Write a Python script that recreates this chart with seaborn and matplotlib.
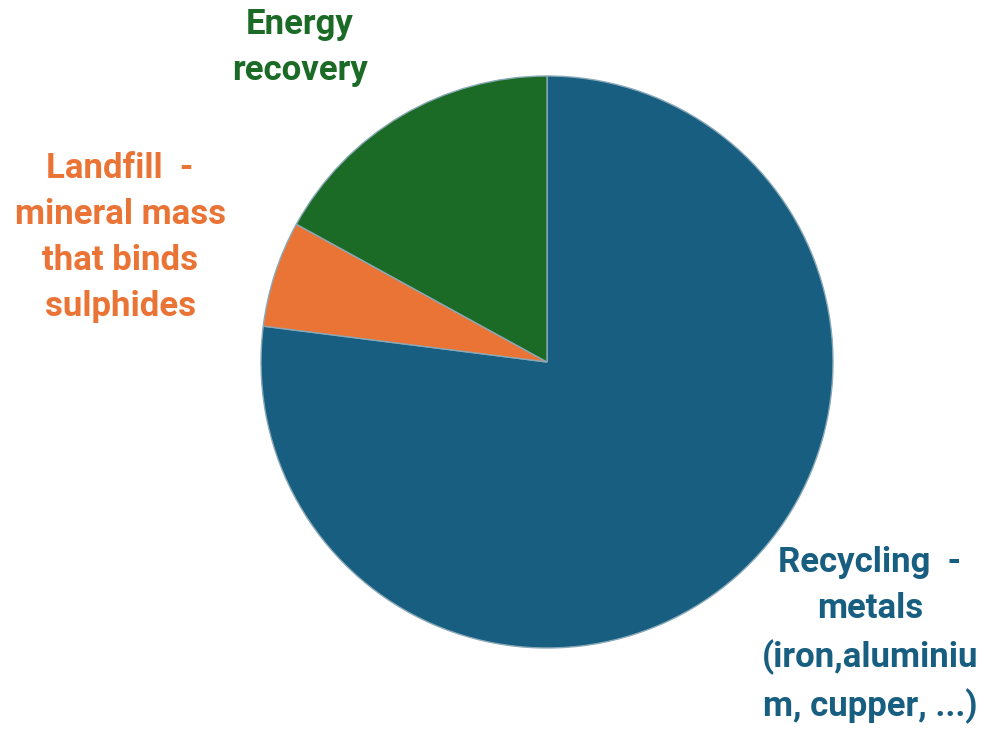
import matplotlib
matplotlib.use("Agg")
import matplotlib.pyplot as plt
import seaborn as sns

categories = ["Recycling  -\nmetals\n(iron,aluminiu\nm, cupper, ...)",
              "Landfill  -\nmineral mass\nthat binds\nsulphides",
              "Energy\nrecovery"]
values = [77, 6, 17]
colors = ["#175E80", "#EA7436", "#1B6B26"]

sns.set_style("white")
plt.rcParams['font.family'] = ['Roboto', 'DejaVu Sans']

fig = plt.figure(figsize=(9.86, 7.33), dpi=100)
ax = fig.add_axes([0, 0, 1, 1])
pal = sns.color_palette(colors)
ax.pie(values, colors=pal, startangle=90, counterclock=False,
       wedgeprops=dict(edgecolor="#8aa9b8", linewidth=1.0), radius=1.0)
ax.set_xlim(-547/286, (986-547)/286)
ax.set_ylim(-(733-362)/286, 362/286)
ax.set_aspect('auto')
ax.axis('off')

label_pos = [(1.129, -0.955), (-1.493, 0.437), (-0.864, 1.098)]
for lab, (x, y), c in zip(categories, label_pos, colors):
    ax.text(x, y, lab, color=c, fontsize=25, fontweight='bold',
            ha='center', va='center', linespacing=1.5)

fig.savefig("out.png", dpi=100)
